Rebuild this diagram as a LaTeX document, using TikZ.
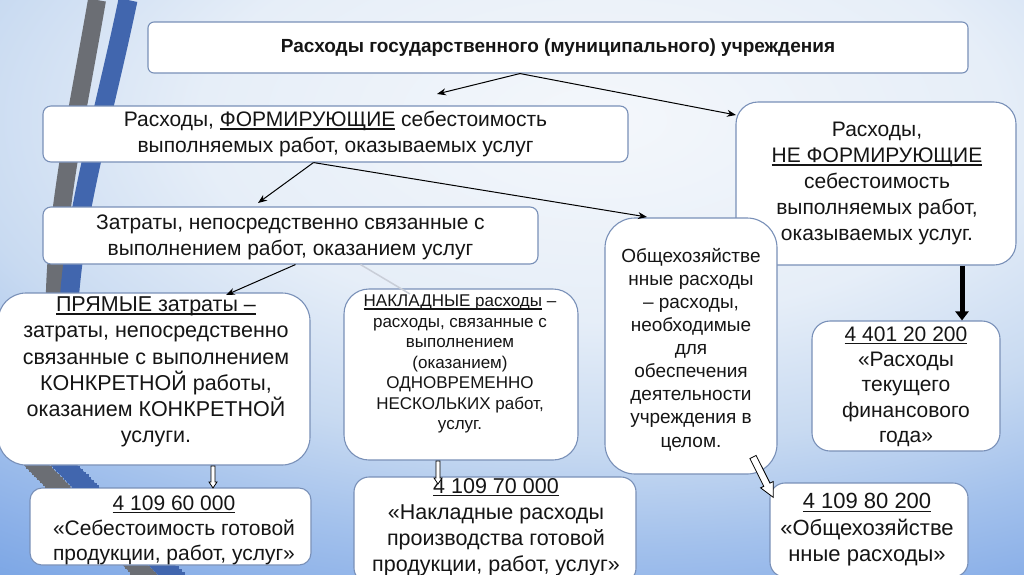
\documentclass[tikz,border=0pt]{standalone}
\usepackage{fontspec}
\setmainfont{Liberation Sans}
\usetikzlibrary{arrows.meta,calc}
\definecolor{bg0}{HTML}{F4F7FB}
\definecolor{bg1}{HTML}{E6EEF8}
\definecolor{bg2}{HTML}{C8DAF1}
\definecolor{bg3}{HTML}{A3C1EC}
\definecolor{bg4}{HTML}{8BB0E8}
\definecolor{bg5}{HTML}{74A1E3}
\definecolor{stripegrey}{HTML}{6B6E74}
\definecolor{stripeblue}{HTML}{4166AE}
\definecolor{boxline}{HTML}{7990B8}
\definecolor{txt}{HTML}{151515}
\definecolor{faint}{HTML}{C9CED8}
\pgfdeclareradialshading{bgr}{\pgfpoint{0bp}{0bp}}{color(0bp)=(bg0); color(8bp)=(bg1); color(13bp)=(bg2); color(17bp)=(bg3); color(20bp)=(bg4); color(23bp)=(bg5); color(50bp)=(bg5)}
\newcommand\fsz[2]{\fontsize{#1}{#2}\selectfont}
\newcommand\myul[1]{\leavevmode\setbox0=\hbox{#1}\rlap{\rule[-3pt]{\wd0}{1.3pt}}\box0\relax}
\newcommand\harrow[6]{%
  \begin{scope}[shift={(#1)},rotate=#2]
    \draw[hollowtip] (0pt,#4pt) -- ({#3pt-#6pt},#4pt) -- ({#3pt-#6pt},#5pt) -- (#3pt,0pt) -- ({#3pt-#6pt},-#5pt) -- ({#3pt-#6pt},-#4pt) -- (0pt,-#4pt) -- cycle;
  \end{scope}}
\newcommand\bandslices[1]{%
  \foreach \yy in {#1} {
    \fill[stripegrey] ({-6+0.988*(\yy+1.4-422)-12.7},\yy) rectangle ({-6+0.988*(\yy+1.4-422)+12.7},{\yy+2.9});
    \fill[stripeblue] ({18+0.988*(\yy+1.4-418)-13.4},\yy) rectangle ({18+0.988*(\yy+1.4-418)+13.4},{\yy+2.9});
  }}
\tikzset{
  box/.style={draw=boxline, line width=1.1pt, fill=white, inner sep=0pt},
  tx/.style={align=center, text=txt, inner sep=0pt},
  thinarrow/.style={draw=black, line width=1pt, -{Stealth[length=9pt,width=7pt]}},
  thickarrow/.style={draw=black, line width=5pt, -{Triangle[length=9pt,width=13pt]}},
  hollowtip/.style={draw=black, line width=0.8pt, fill=white, line join=miter},
  stripeG/.style={draw=stripegrey, line width=18pt},
  stripeB/.style={draw=stripeblue, line width=19pt},
}
\begin{document}
\begin{tikzpicture}[x=1pt,y=-1pt]
\useasboundingbox (0,0) rectangle (1024,574);
\begin{scope}
  \clip (0,0) rectangle (1024,574);
  \shade[shading=bgr] (-650,-505) rectangle (1850,745);
\end{scope}
% decorative bands
\draw[stripeG] (97,0) .. controls (78,110) and (58,200) .. (55,290) -- (52,330);
\draw[stripeB] (128,0) .. controls (105,110) and (78,200) .. (70,290) -- (67,330);
\begin{scope}
  \clip (0,0) rectangle (1024,574);
  \draw[stripeG] (-6,422) -- (160,590);
  \draw[stripeB] (18,418) -- (186,590);
\end{scope}

% boxes and texts
\node[box, rounded corners=6pt, minimum width=820pt, minimum height=51pt] (b1) at (558,47.5) {};
\node[tx, font=\fsz{19}{22}\bfseries] (t1) at (558,48) {Расходы государственного (муниципального) учреждения};

\node[box, rounded corners=8pt, minimum width=585pt, minimum height=56pt] (b2) at (335.5,134) {};
\node[tx, font=\fsz{21}{26}] (t2) at (335.5,134) {Расходы, \myul{ФОРМИРУЮЩИЕ} себестоимость\\выполняемых работ, оказываемых услуг};

\node[box, rounded corners=22pt, minimum width=280pt, minimum height=163pt] (b3) at (876,183.5) {};
\node[tx, font=\fsz{21}{26}] (t3) at (877,183.5) {Расходы,\\\myul{НЕ ФОРМИРУЮЩИЕ}\\себестоимость\\выполняемых работ,\\оказываемых услуг.};

\node[box, rounded corners=8pt, minimum width=495pt, minimum height=57pt] (b4) at (290.5,235.5) {};
\node[tx, font=\fsz{21}{26}] (t4) at (290.5,237) {Затраты, непосредственно связанные с\\выполнением работ, оказанием услуг};

\node[box, rounded corners=30pt, minimum width=172pt, minimum height=256pt] (b5) at (691,346) {};
\node[tx, font=\fsz{19}{23.1}] (t5) at (691,349.5) {Общехозяйстве\\нные расходы\\– расходы,\\необходимые\\для\\обеспечения\\деятельности\\учреждения в\\целом.};

\node[box, rounded corners=28pt, minimum width=312pt, minimum height=172pt] (b6) at (154,379) {};
\node[tx, font=\fsz{21.5}{26.2}] (t6) at (156,372) {\myul{ПРЯМЫЕ затраты –}\\затраты, непосредственно\\связанные с выполнением\\КОНКРЕТНОЙ работы,\\оказанием КОНКРЕТНОЙ\\услуги.};

\node[box, rounded corners=25pt, minimum width=234pt, minimum height=171pt] (b7) at (461,374.5) {};
\node[tx, font=\fsz{17}{20.5}] (t7) at (460,364) {\myul{НАКЛАДНЫЕ расходы} –\\расходы, связанные с\\выполнением\\(оказанием)\\ОДНОВРЕМЕННО\\НЕСКОЛЬКИХ работ,\\услуг.};

\node[box, rounded corners=18pt, minimum width=188pt, minimum height=130pt] (b8) at (906,386) {};
\node[tx, font=\fsz{21}{25.3}] (t8) at (906,386.5) {\myul{4 401 20 200}\\«Расходы\\текущего\\финансового\\года»};

\node[box, rounded corners=12pt, minimum width=281pt, minimum height=77pt] (b9) at (170.5,526.5) {};
\node[tx, font=\fsz{21}{25}] (t9) at (174,530) {\myul{4 109 60 000}\\«Себестоимость готовой\\продукции, работ, услуг»};

\node[box, rounded corners=15pt, minimum width=282pt, minimum height=106pt] (b10) at (495,530) {};
\node[tx, font=\fsz{21.5}{26}] (t10) at (496,527) {\myul{4 109 70 000}\\«Накладные расходы\\производства готовой\\продукции, работ, услуг»};

\node[box, rounded corners=15pt, minimum width=198pt, minimum height=94pt] (b11) at (869,530) {};
\node[tx, font=\fsz{22}{26.5}] (t11) at (867,530) {\myul{4 109 80 200}\\«Общехозяйстве\\нные расходы»};

% bands visible in the gaps between the lower-left boxes
\bandslices{466,468.8,471.6,474.4,477.2,480,482.8,484.6}
\bandslices{566,568.8,571.6}

% connectors
\coordinate (a1e) at (437,94);
\coordinate (a2e) at (736,115);
\coordinate (a3e) at (258,203);
\coordinate (a4e) at (647,217);
\coordinate (a5e) at (226,295);
\coordinate (a6e) at (410,294);
\draw[thinarrow] ([xshift=-38pt]b1.south) -- (a1e);
\draw[thinarrow] ([xshift=-38pt]b1.south) -- (a2e);
\draw[thinarrow] ([xshift=-22pt]b2.south) -- (a3e);
\draw[thinarrow] ([xshift=-22pt]b2.south) -- (a4e);
\draw[thinarrow] ([xshift=5pt]b4.south) -- (a5e);
\draw[draw=faint, line width=1.5pt] ([xshift=70pt]b4.south) -- (a6e);
\draw[thickarrow] ([xshift=86pt]b3.south) -- ([xshift=56pt]b8.north);

\coordinate (h1) at (213,466);
\coordinate (h2) at (438,461);
\coordinate (h3) at (753,457);
\harrow{h1}{-90}{22}{2}{4}{6}
\harrow{h2}{-90}{23}{2}{4}{6}
\harrow{h3}{-63.4}{45}{3.5}{7}{14}
\end{tikzpicture}
\end{document}
